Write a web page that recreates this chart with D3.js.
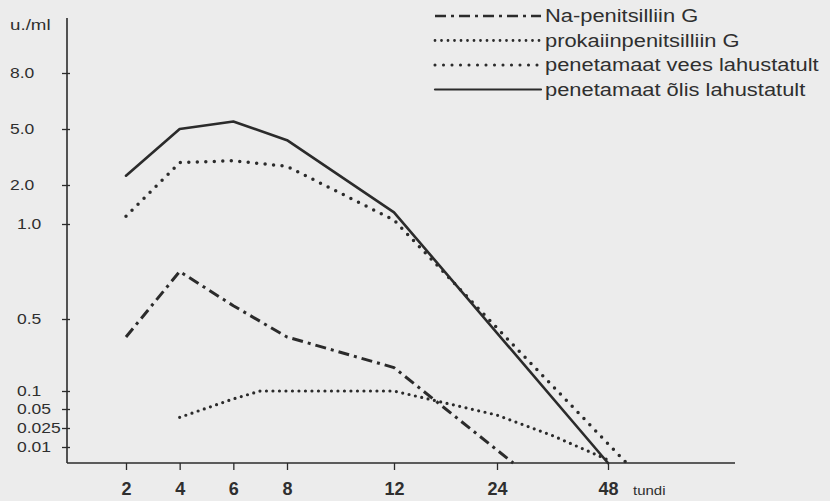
<!DOCTYPE html>
<html lang='et'>

<head>
	<meta charset='UTF-8'/>
	<title>Penitsilliini kontsentratsioon</title>
	<script src='https://cdnjs.cloudflare.com/ajax/libs/d3/7.8.5/d3.min.js'></script>
	<style>
		body {margin: 0; background: #ececec;}
		svg {display: block; background: #ececec;}
		text {font-family: 'Liberation Sans', Arial, sans-serif; fill: #2f2f2f;}
	</style>
</head>

<body>
	<div class='graph'></div>
	<script>
		// tick values / labels
		const hours = [2, 4, 6, 8, 12, 24, 48];
		const hourLabels = ['2', '4', '6', '8', '12', '24', '48'];
		const levels = [0.01, 0.025, 0.05, 0.1, 0.5, 1, 2, 5, 8];
		const levelLabels = ['0.01', '0.025', '0.05', '0.1', '0.5', '1.0', '2.0', '5.0', '8.0'];

		// series (u./ml per hour)
		const naHours = [2, 4, 6, 8, 12, 27.5];
		const naValues = [0.4, 0.75, 0.57, 0.4, 0.23, 0];
		const prokHours = [4, 6, 7, 8, 12, 24, 36, 48];
		const prokValues = [0.039, 0.078, 0.1, 0.1, 0.1, 0.042, 0.019, 0.002];
		const veesHours = [2, 4, 6, 8, 12, 24, 52];
		const veesValues = [1.2, 3.2, 3.3, 3.0, 1.1, 0.45, 0];
		const olisHours = [2, 4, 6, 8, 12, 48];
		const olisValues = [2.5, 5.0, 5.4, 4.4, 1.3, 0];

		const seriesNames = ['Na-penitsilliin G', 'prokaiinpenitsilliin G', 'penetamaat vees lahustatult', 'penetamaat õlis lahustatult'];

		var width = 830;
		var height = 501;
		const ink = '#2b2b2b';
		const STRETCH = 1.25; // the scan is widened horizontally

		var svg = d3.select('.graph')
			.append('svg')
			.attr('width', width)
			.attr('height', height);

		// the original axes are hand spaced, so both scales are piecewise linear
		const X_SCALE = d3.scaleLinear()
			.domain([2, 8, 12, 24, 48])
			.range([126, 287, 394, 497, 608]);
		const Y_SCALE = d3.scaleLinear()
			.domain([0].concat(levels))
			.range([463, 447, 428, 409, 391, 319, 224, 185, 129, 73]);

		function widen(sel) {
			sel.each(function () {
				let w = this.getComputedTextLength();
				d3.select(this).attr('textLength', w * STRETCH).attr('lengthAdjust', 'spacingAndGlyphs');
			});
		}

		// axes
		const axisX = d3.axisBottom(X_SCALE).tickValues(hours).tickSize(7).tickPadding(9)
			.tickFormat((d, i) => hourLabels[i]);
		const gx = svg.append('g')
			.attr('transform', 'translate(0, 463)')
			.call(axisX);
		gx.select('.domain').attr('d', 'M67,0H735').attr('stroke', ink).attr('stroke-width', 1.6);
		gx.selectAll('.tick line').attr('stroke', ink).attr('stroke-width', 1.3);
		gx.selectAll('.tick text')
			.attr('dy', null).attr('y', 32)
			.style('font-size', '18px').style('font-weight', 'bold')
			.style('font-family', "'Liberation Sans', Arial, sans-serif")
			.attr('fill', '#333');

		const axisY = d3.axisLeft(Y_SCALE).tickValues(levels).tickSize(6)
			.tickFormat((d, i) => levelLabels[i]);
		const gy = svg.append('g')
			.attr('transform', 'translate(67, 0)')
			.call(axisY);
		gy.select('.domain').attr('d', 'M0,18V463').attr('stroke', ink).attr('stroke-width', 1.6);
		gy.selectAll('.tick line').attr('x1', -5).attr('x2', 3).attr('stroke', ink).attr('stroke-width', 1.3);
		gy.selectAll('.tick text')
			.attr('text-anchor', 'start')
			.attr('x', d => d >= 2 ? -57 : -50)
			.attr('dy', '0.35em')
			.style('font-size', '14px')
			.style('font-family', "'Liberation Sans', Arial, sans-serif")
			.attr('fill', '#333');
		widen(gy.selectAll('.tick text'));

		svg.append('text')
			.text('u./ml')
			.attr('x', 10)
			.attr('y', 30)
			.style('font-size', '15px')
			.call(widen);
		svg.append('text')
			.text('tundi')
			.attr('x', 633)
			.attr('y', 495)
			.style('font-size', '12px')
			.call(widen);

		// lines
		const styles = [
			{dash: '11,5,3,5', w: 3, cap: 'butt'},
			{dash: '0,6.5', w: 3.2, cap: 'round'},
			{dash: '0,8.5', w: 3.5, cap: 'round'},
			{dash: null, w: 2.6, cap: 'round'}
		];
		const series = [
			[naHours, naValues],
			[prokHours, prokValues],
			[veesHours, veesValues],
			[olisHours, olisValues]
		];
		const line = d3.line()
			.x(d => X_SCALE(d[0]))
			.y(d => Y_SCALE(d[1]));

		series.forEach((s, k) => {
			let pts = s[0].map((h, i) => [h, s[1][i]]);
			svg.append('path')
				.attr('d', line(pts))
				.attr('fill', 'none')
				.attr('stroke', ink)
				.attr('stroke-width', styles[k].w)
				.attr('stroke-linecap', styles[k].cap)
				.attr('stroke-linejoin', 'round')
				.attr('stroke-dasharray', styles[k].dash);
		});

		// legend
		const legend = svg.append('g').attr('transform', 'translate(435, 16)');
		seriesNames.forEach((name, k) => {
			let y = k * 24.5;
			legend.append('line')
				.attr('x1', 0).attr('x2', 106)
				.attr('y1', y).attr('y2', y)
				.attr('stroke', ink)
				.attr('stroke-width', styles[k].w - 0.4)
				.attr('stroke-linecap', styles[k].cap)
				.attr('stroke-dasharray', styles[k].dash);
			legend.append('text')
				.text(name)
				.attr('x', 110)
				.attr('y', y + 6)
				.style('font-size', '17.5px')
				.call(widen);
		});
	</script>
</body>

</html>
